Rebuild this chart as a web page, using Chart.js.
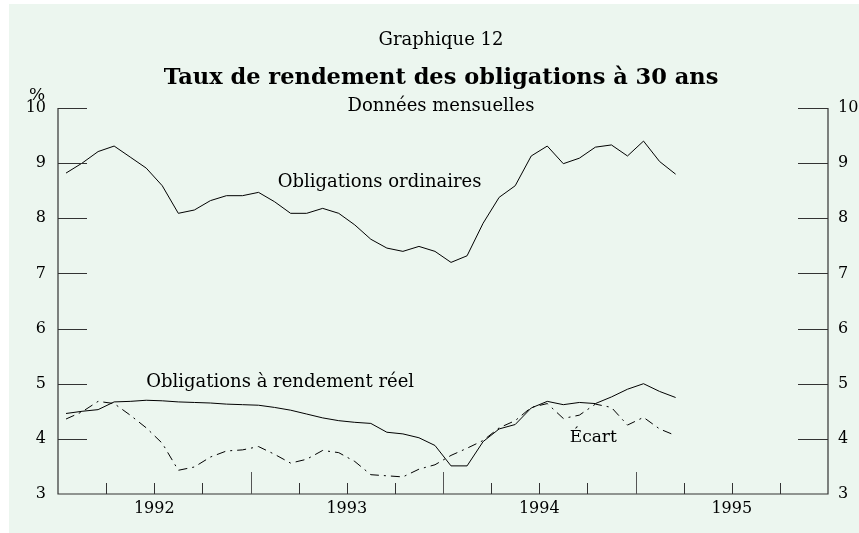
<!DOCTYPE html>
<html>
<head>
<meta charset="utf-8">
<script src="https://cdn.jsdelivr.net/npm/chart.js@4.4.1/dist/chart.umd.min.js"></script>
<style>
  body { margin: 0; background: #ffffff; }
  canvas { display: block; }
</style>
</head>
<body>
<canvas id="chart" width="859" height="533"></canvas>
<script>
// Données mensuelles, janvier 1992 à mars 1995
const yearLabels = ['1992', '1993', '1994', '1995'];
const ordinaires = [
    8.82, 9.00, 9.21, 9.31, 9.11, 8.91, 8.59, 8.09, 8.15, 8.32, 8.41, 8.41,
    8.47, 8.30, 8.09, 8.09, 8.18, 8.09, 7.88, 7.62, 7.46, 7.40, 7.49, 7.40,
    7.20, 7.32, 7.91, 8.38, 8.59, 9.13, 9.31, 8.99, 9.09, 9.29, 9.33, 9.13,
    9.40, 9.03, 8.80
];
const reel = [
    4.46, 4.50, 4.53, 4.67, 4.68, 4.70, 4.69, 4.67, 4.66, 4.65, 4.63, 4.62,
    4.61, 4.57, 4.52, 4.45, 4.38, 4.33, 4.30, 4.28, 4.12, 4.09, 4.02, 3.88,
    3.51, 3.51, 3.95, 4.18, 4.26, 4.56, 4.68, 4.62, 4.66, 4.64, 4.76, 4.90,
    5.00, 4.86, 4.75
];
const ecart = [
    4.36, 4.49, 4.68, 4.64, 4.43, 4.20, 3.92, 3.43, 3.49, 3.67, 3.78, 3.80,
    3.86, 3.72, 3.56, 3.63, 3.79, 3.75, 3.59, 3.35, 3.33, 3.31, 3.45, 3.53,
    3.70, 3.83, 3.97, 4.20, 4.33, 4.57, 4.64, 4.37, 4.43, 4.63, 4.57, 4.25,
    4.39, 4.18, 4.06
];

const FONT = '"DejaVu Serif", "Liberation Serif", serif';
const toPoints = arr => arr.map((v, i) => ({ x: i + 0.5, y: v }));

// fond, titres, axes et étiquettes
const decor = {
    id: 'decor',
    beforeDraw(chart) {
        const ctx = chart.ctx;
        ctx.save();
        ctx.fillStyle = '#ecf6ef';
        ctx.fillRect(9, 4, chart.width - 9, chart.height - 4);
        ctx.restore();
    },
    afterDraw(chart) {
        const ctx = chart.ctx;
        const area = chart.chartArea;
        const x = chart.scales.x;
        const y = chart.scales.y;
        ctx.save();
        ctx.fillStyle = '#000';
        ctx.textAlign = 'center';
        ctx.textBaseline = 'middle';
        ctx.font = '18px ' + FONT;
        ctx.fillText('Graphique 12', 441, 40);
        ctx.font = 'bold 22.5px ' + FONT;
        ctx.fillText('Taux de rendement des obligations à 30 ans', 441, 78);
        ctx.font = '18px ' + FONT;
        ctx.fillText('Données mensuelles', 441, 106);
        ctx.font = '17px ' + FONT;
        ctx.fillText('%', 37, 96);

        // étiquettes des séries
        ctx.textAlign = 'left';
        ctx.font = '18px ' + FONT;
        ctx.fillText('Obligations ordinaires', x.getPixelForValue(13.7), y.getPixelForValue(8.66));
        ctx.fillText('Obligations à rendement réel', x.getPixelForValue(5.5), y.getPixelForValue(5.02));
        ctx.font = '17px ' + FONT;
        ctx.fillText('Écart', x.getPixelForValue(31.9), y.getPixelForValue(4.03));

        // cadre
        ctx.strokeStyle = '#333';
        ctx.lineWidth = 1.2;
        ctx.beginPath();
        ctx.moveTo(area.left, area.top);
        ctx.lineTo(area.left, area.bottom);
        ctx.lineTo(area.right, area.bottom);
        ctx.lineTo(area.right, area.top);
        ctx.stroke();

        // graduations verticales, vers l'intérieur
        ctx.lineWidth = 1;
        y.ticks.forEach(t => {
            if (t.value === y.min) return;
            const py = Math.round(y.getPixelForValue(t.value)) + 0.5;
            ctx.beginPath();
            ctx.moveTo(area.left, py);
            ctx.lineTo(area.left + 29, py);
            ctx.moveTo(area.right - 30, py);
            ctx.lineTo(area.right, py);
            ctx.stroke();
        });

        // graduations trimestrielles, plus longues aux changements d'année
        for (let m = 3; m < 48; m += 3) {
            const px = Math.round(x.getPixelForValue(m)) + 0.5;
            const len = m % 12 === 0 ? 22 : 11;
            ctx.strokeStyle = m % 12 === 0 ? '#555' : '#333';
            ctx.beginPath();
            ctx.moveTo(px, area.bottom);
            ctx.lineTo(px, area.bottom - len);
            ctx.stroke();
        }
        ctx.restore();
    }
};

const ctx = document.getElementById('chart').getContext('2d');
new Chart(ctx, {
    type: 'line',
    data: {
        datasets: [
            {
                label: 'Obligations ordinaires',
                data: toPoints(ordinaires),
                borderColor: '#000',
                borderWidth: 1,
                pointRadius: 0,
                tension: 0
            },
            {
                label: 'Obligations à rendement réel',
                data: toPoints(reel),
                borderColor: '#000',
                borderWidth: 1,
                pointRadius: 0,
                tension: 0
            },
            {
                label: 'Écart',
                data: toPoints(ecart),
                borderColor: '#000',
                borderWidth: 1,
                borderDash: [9, 5, 2, 5],
                pointRadius: 0,
                tension: 0
            }
        ]
    },
    options: {
        responsive: false,
        animation: false,
        layout: {
            padding: { top: 108, left: 0, right: 0, bottom: 0 }
        },
        plugins: {
            legend: { display: false },
            tooltip: { enabled: false }
        },
        scales: {
            x: {
                type: 'linear',
                min: 0,
                max: 48,
                grid: { display: false, drawTicks: false },
                border: { display: false },
                afterBuildTicks: scale => {
                    scale.ticks = yearLabels.map((_, i) => ({ value: i * 12 + 6 }));
                },
                afterFit: scale => { scale.height = 39; },
                ticks: {
                    padding: 5,
                    maxRotation: 0,
                    autoSkip: false,
                    color: '#000',
                    font: { family: FONT, size: 16 },
                    callback: (value) => yearLabels[Math.floor(value / 12)]
                }
            },
            y: {
                position: 'left',
                min: 3,
                max: 10,
                grid: { display: false, drawTicks: false },
                border: { display: false },
                afterFit: scale => { scale.width = 58; },
                ticks: {
                    stepSize: 1,
                    padding: 12,
                    color: '#000',
                    font: { family: FONT, size: 16 }
                }
            },
            y2: {
                position: 'right',
                min: 3,
                max: 10,
                grid: { display: false, drawTicks: false },
                border: { display: false },
                afterFit: scale => { scale.width = 31; },
                ticks: {
                    stepSize: 1,
                    padding: 10,
                    color: '#000',
                    font: { family: FONT, size: 16 }
                }
            }
        }
    },
    plugins: [decor]
});
</script>
</body>
</html>
